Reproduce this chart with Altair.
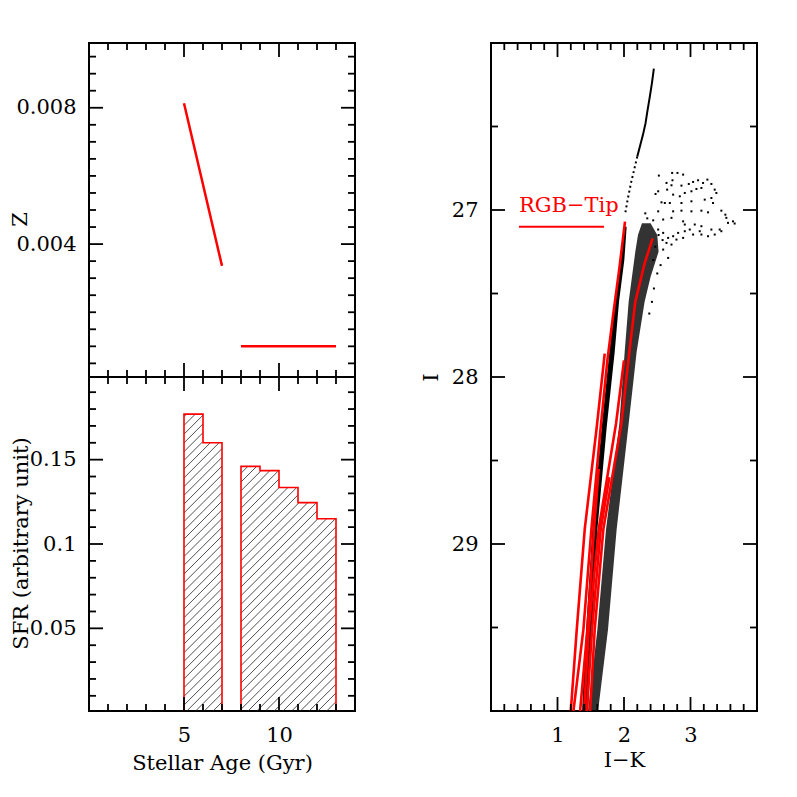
import altair as alt
import pandas as pd

# ---------------- data ----------------
# top-left panel: metallicity Z vs stellar age (two segments)
z_age = [5.0, 7.0, 8.0, 13.0]
z_val = [0.00813, 0.00336, 0.0010, 0.0010]
z_seg = ["young", "young", "old", "old"]

# bottom-left panel: SFR histogram
bin_lo = [5, 6, 8, 9, 10, 11, 12]
bin_hi = [6, 7, 9, 10, 11, 12, 13]
sfr = [0.177, 0.160, 0.146, 0.1435, 0.1335, 0.1245, 0.115]

# tick values
age_major = [5, 10]
age_minor = [1, 2, 3, 4, 6, 7, 8, 9, 11, 12, 13]
z_major = [0.004, 0.008]
z_minor = [0.0005, 0.001, 0.0015, 0.002, 0.0025, 0.003, 0.0035, 0.0045, 0.005,
           0.0055, 0.006, 0.0065, 0.007, 0.0075, 0.0085, 0.009, 0.0095]
sfr_major = [0.05, 0.1, 0.15]
sfr_minor = [0.01, 0.02, 0.03, 0.04, 0.06, 0.07, 0.08, 0.09, 0.11, 0.12, 0.13,
             0.14, 0.16, 0.17, 0.18, 0.19]
ik_major = [1, 2, 3]
ik_minor = [0.2, 0.4, 0.6, 0.8, 1.2, 1.4, 1.6, 1.8, 2.2, 2.4, 2.6, 2.8, 3.2,
            3.4, 3.6, 3.8]
i_major = [27, 28, 29]
i_minor = [26.5, 27.5, 28.5, 29.5]

# right panel (CMD): dense star sequences as bands (I, left I-K, right I-K)
lb_I = [27.10, 27.30, 27.55, 27.85, 28.30, 28.91, 29.51, 30.0]
lb_xl = [2.005, 1.955, 1.865, 1.78, 1.665, 1.525, 1.43, 1.37]
lb_xr = [2.04, 2.005, 1.925, 1.86, 1.74, 1.60, 1.52, 1.46]

rb_I = [27.08, 27.15, 27.25, 27.40, 27.55, 27.85, 28.28, 28.91, 29.51, 30.0]
rb_xl = [2.27, 2.21, 2.17, 2.12, 2.07, 2.01, 1.93, 1.73, 1.60, 1.46]
rb_xr = [2.40, 2.50, 2.52, 2.40, 2.31, 2.19, 2.07, 1.89, 1.76, 1.61]

# thin bright sequence above the tip
us_x = [2.449, 2.42, 2.389, 2.355, 2.324, 2.285, 2.239, 2.20]
us_I = [26.154, 26.24, 26.32, 26.40, 26.48, 26.55, 26.62, 26.68]
us2_x = [2.20, 2.164, 2.104, 2.054, 2.014]
us2_I = [26.68, 26.74, 26.84, 26.94, 27.03]

# sparse stars (clump / AGB region)
cl_x = [2.524, 2.724, 2.804, 2.889, 2.639, 2.729, 2.714, 2.864, 2.974, 3.039,
        3.114, 3.189, 3.254, 3.314, 2.474, 2.514, 2.649, 2.739, 2.839, 2.914,
        3.014, 3.089, 3.164, 3.364, 3.389, 2.614, 2.564, 2.689, 2.864, 3.014,
        3.214, 3.314, 3.339, 2.514, 2.739, 2.864, 3.014, 3.164, 3.264, 3.464,
        3.524, 3.539, 3.639, 3.564, 3.664, 2.439, 2.589, 2.714, 2.889, 3.064,
        2.914, 3.164, 3.314, 3.439, 3.464, 2.514, 2.589, 2.664, 2.739, 2.814,
        2.914, 2.989, 3.039, 3.139, 3.264, 3.364, 2.639, 2.714, 2.589, 2.664,
        2.889, 2.789, 3.164, 2.47, 2.55, 2.50, 2.45, 2.42, 2.38, 2.58, 2.52,
        2.35, 2.32, 2.44]
cl_I = [26.794, 26.778, 26.778, 26.788, 26.838, 26.822, 26.852, 26.854, 26.844,
        26.832, 26.822, 26.838, 26.818, 26.844, 26.904, 26.888, 26.878, 26.908,
        26.918, 26.898, 26.888, 26.874, 26.868, 26.878, 26.898, 26.958, 26.954,
        26.958, 26.958, 26.948, 26.938, 26.928, 26.958, 27.008, 27.008, 27.004,
        27.008, 27.004, 27.014, 27.004, 27.028, 27.047, 27.068, 27.077, 27.081,
        27.062, 27.057, 27.047, 27.068, 27.087, 27.087, 27.097, 27.117, 27.117,
        27.127, 27.117, 27.137, 27.167, 27.157, 27.137, 27.127, 27.117, 27.147,
        27.127, 27.157, 27.147, 27.197, 27.207, 27.237, 27.287, 27.167, 27.177,
        27.147, 27.22, 27.33, 27.38, 27.47, 27.55, 27.62, 27.18, 27.15, 27.05,
        27.02, 27.30]

# isochrones (red), listed from the top downwards
iso_LA_x = [2.015, 1.93, 1.84, 1.75, 1.65, 1.51, 1.39, 1.24]
iso_LA_I = [27.07, 27.35, 27.62, 27.90, 28.30, 28.91, 29.51, 30.0]
iso_LB_x = [1.71, 1.59, 1.41, 1.29, 1.20]
iso_LB_I = [27.86, 28.30, 28.91, 29.51, 30.0]
iso_LC_x = [1.62, 1.55, 1.45, 1.34]
iso_LC_I = [28.55, 28.91, 29.51, 30.0]
iso_RA_x = [2.43, 2.31, 2.17, 2.08, 1.96, 1.69, 1.56, 1.49]
iso_RA_I = [27.17, 27.32, 27.55, 27.85, 28.28, 28.91, 29.51, 30.0]
iso_RB_x = [2.00, 1.88, 1.62, 1.47, 1.40]
iso_RB_I = [27.90, 28.28, 28.91, 29.51, 30.0]
iso_RC_x = [1.78, 1.65, 1.52, 1.44]
iso_RC_I = [28.60, 28.91, 29.51, 30.0]

# RGB tip marker
tip_x = [0.42, 1.70]
tip_I = [27.10, 27.10]
tip_label_x = [0.42]
tip_label_I = [27.01]
tip_label = ["RGB\u2212Tip"]

# ---------------- styling ----------------
FONT = "DejaVu Serif"
FS = 21
RED = "#ff0000"
MAJ, MIN = 14, 7
TW = 1.8
LW, TOPH, BOTH = 266, 334, 334
RW, RH = 266, 668

# scales
x_age = alt.Scale(domain=[0, 14], nice=False, zero=False)
y_z = alt.Scale(domain=[0.0001, 0.0099], nice=False, zero=False)
y_sfr = alt.Scale(domain=[0.001, 0.199], nice=False, zero=False)
x_ik = alt.Scale(domain=[0, 4], nice=False, zero=False)
y_I = alt.Scale(domain=[26, 30], nice=False, zero=False, reverse=True)

# axes (the same object is used in every layer of a panel)
ax_top_x = None
ax_top_y = alt.Axis(values=z_major, format=".3f", title="Z",
                    titleX=-69, titleY=176, titleAngle=270,
                    titleBaseline="middle", titleAlign="center")
ax_bot_x = alt.Axis(values=age_major, format="d", title="Stellar Age (Gyr)",
                    titleX=133, titleY=58, titleBaseline="alphabetic",
                    titleAlign="center")
ax_bot_y = alt.Axis(values=sfr_major, format="~g",
                    title="SFR (arbitrary unit)", titleX=-68, titleY=166,
                    titleAngle=270, titleBaseline="middle",
                    titleAlign="center")
ax_r_x = alt.Axis(values=ik_major, format="d", title="I\u2212K",
                  titleX=133, titleY=55, titleBaseline="alphabetic",
                  titleAlign="center")
ax_r_y = alt.Axis(values=i_major, format="d", title="I",
                  titleX=-60, titleY=334, titleAngle=270,
                  titleBaseline="middle", titleAlign="center")


def X(field, scale, axis):
    return alt.X(field, scale=scale, axis=axis)


def Y(field, scale, axis):
    return alt.Y(field, scale=scale, axis=axis)


def side_ticks(vals, scale, axis, side, L, W, H):
    df = pd.DataFrame({"v": vals})
    m = alt.Chart(df).mark_rule(color="black", strokeWidth=TW)
    if side in ("left", "right"):
        x0 = 0 if side == "left" else W
        x1 = L if side == "left" else W - L
        return m.encode(y=Y("v:Q", scale, axis),
                        x=alt.value(x0), x2=alt.value(x1))
    y0 = 0 if side == "top" else H
    y1 = L if side == "top" else H - L
    return m.encode(x=X("v:Q", scale, axis),
                    y=alt.value(y0), y2=alt.value(y1))


def frame_ticks(xs, xa, ys, ya, xmaj, xmin, ymaj, ymin, W, H, sides):
    out = []
    for s in sides:
        if s in ("left", "right"):
            out.append(side_ticks(ymaj, ys, ya, s, MAJ, W, H))
            out.append(side_ticks(ymin, ys, ya, s, MIN, W, H))
        else:
            out.append(side_ticks(xmaj, xs, xa, s, MAJ, W, H))
            out.append(side_ticks(xmin, xs, xa, s, MIN, W, H))
    return out


# ---------------- top-left panel ----------------
zdf = pd.DataFrame({"age": z_age, "z": z_val, "seg": z_seg})
zline = alt.Chart(zdf).mark_line(color=RED, strokeWidth=2.5).encode(
    x=X("age:Q", x_age, ax_top_x),
    y=Y("z:Q", y_z, ax_top_y),
    detail="seg:N",
)
top = alt.layer(
    zline,
    *frame_ticks(x_age, ax_top_x, y_z, ax_top_y, age_major, age_minor,
                 z_major, z_minor, LW, TOPH,
                 ["left", "right", "top", "bottom"]),
).properties(width=LW, height=TOPH)

# ---------------- bottom-left panel ----------------
# hatch (45 degrees on screen) clipped to each bar
slope = (LW / 14.0) / (BOTH / 0.198)
spacing = 0.46
hatch = []
for lo, hi, h in zip(bin_lo, bin_hi, sfr):
    span = h / slope
    k0 = int((lo - span) / spacing) - 2
    k1 = int(hi / spacing) + 2
    for k in range(k0, k1 + 1):
        c = k * spacing
        xs = max(lo, c)
        xe = min(hi, c + span)
        if xe > xs:
            hatch.append({"x": xs, "x2": xe, "y": (xs - c) * slope,
                          "y2": (xe - c) * slope})
hdf = pd.DataFrame(hatch)

# step outline of contiguous groups of bins
rows = []
g, k = 0, 0
for i in range(len(sfr)):
    if i == 0 or bin_lo[i] != bin_hi[i - 1]:
        if i > 0:
            rows.append({"g": g, "k": k, "x": bin_hi[i - 1], "y": 0.0})
            g += 1
            k = 0
        rows.append({"g": g, "k": k, "x": bin_lo[i], "y": 0.0})
        k += 1
    rows.append({"g": g, "k": k, "x": bin_lo[i], "y": sfr[i]})
    k += 1
    rows.append({"g": g, "k": k, "x": bin_hi[i], "y": sfr[i]})
    k += 1
rows.append({"g": g, "k": k, "x": bin_hi[-1], "y": 0.0})
odf = pd.DataFrame(rows)

hatch_layer = alt.Chart(hdf).mark_rule(color="#222222", strokeWidth=0.8,
                                       clip=True).encode(
    x=X("x:Q", x_age, ax_bot_x),
    x2="x2:Q",
    y=Y("y:Q", y_sfr, ax_bot_y),
    y2="y2:Q",
)
outline = alt.Chart(odf).mark_line(color=RED, strokeWidth=1.6,
                                   clip=True).encode(
    x=X("x:Q", x_age, ax_bot_x),
    y=Y("y:Q", y_sfr, ax_bot_y),
    detail="g:N",
    order="k:Q",
)
bottom = alt.layer(
    hatch_layer, outline,
    *frame_ticks(x_age, ax_bot_x, y_sfr, ax_bot_y, age_major, age_minor,
                 sfr_major, sfr_minor, LW, BOTH,
                 ["left", "right", "bottom", "top"]),
).properties(width=LW, height=BOTH)

# ---------------- right panel (CMD) ----------------
lbdf = pd.DataFrame({"I": lb_I, "xl": lb_xl, "xr": lb_xr})
rbdf = pd.DataFrame({"I": rb_I, "xl": rb_xl, "xr": rb_xr})

band_l = alt.Chart(lbdf).mark_area(color="black", orient="horizontal").encode(
    y=Y("I:Q", y_I, ax_r_y), x=X("xl:Q", x_ik, ax_r_x), x2="xr:Q")
band_r = alt.Chart(rbdf).mark_area(color="black", opacity=0.8,
                                   orient="horizontal").encode(
    y=Y("I:Q", y_I, ax_r_y), x=X("xl:Q", x_ik, ax_r_x), x2="xr:Q")

usdf = pd.DataFrame({"x": us_x, "I": us_I, "k": list(range(len(us_x)))})
us2df = pd.DataFrame({"x": us2_x, "I": us2_I, "k": list(range(len(us2_x)))})
upper1 = alt.Chart(usdf).mark_line(color="black", strokeWidth=2).encode(
    x=X("x:Q", x_ik, ax_r_x), y=Y("I:Q", y_I, ax_r_y), order="k:Q")
upper2 = alt.Chart(us2df).mark_line(color="black", strokeWidth=2,
                                    strokeDash=[2, 3]).encode(
    x=X("x:Q", x_ik, ax_r_x), y=Y("I:Q", y_I, ax_r_y), order="k:Q")

cldf = pd.DataFrame({"x": cl_x, "I": cl_I})
cloud = alt.Chart(cldf).mark_square(color="black", size=4, opacity=1).encode(
    x=X("x:Q", x_ik, ax_r_x), y=Y("I:Q", y_I, ax_r_y))

iso_rows = []
for name, xs_, is_ in [("LA", iso_LA_x, iso_LA_I), ("LB", iso_LB_x, iso_LB_I),
                       ("LC", iso_LC_x, iso_LC_I), ("RA", iso_RA_x, iso_RA_I),
                       ("RB", iso_RB_x, iso_RB_I), ("RC", iso_RC_x, iso_RC_I)]:
    for j, (a, b) in enumerate(zip(xs_, is_)):
        iso_rows.append({"iso": name, "k": j, "x": a, "I": b})
isodf = pd.DataFrame(iso_rows)
iso = alt.Chart(isodf).mark_line(color=RED, strokeWidth=2.6, clip=True).encode(
    x=X("x:Q", x_ik, ax_r_x), y=Y("I:Q", y_I, ax_r_y),
    detail="iso:N", order="k:Q")

tipdf = pd.DataFrame({"x": tip_x, "I": tip_I})
tipline = alt.Chart(tipdf).mark_line(color=RED, strokeWidth=2).encode(
    x=X("x:Q", x_ik, ax_r_x), y=Y("I:Q", y_I, ax_r_y))
tiplab = alt.Chart(pd.DataFrame({"x": tip_label_x, "I": tip_label_I,
                                 "t": tip_label})).mark_text(
    color=RED, font=FONT, fontSize=21, align="left",
    baseline="alphabetic").encode(
    x=X("x:Q", x_ik, ax_r_x), y=Y("I:Q", y_I, ax_r_y), text="t:N")

right = alt.layer(
    band_l, band_r, upper1, upper2, cloud, iso, tipline, tiplab,
    *frame_ticks(x_ik, ax_r_x, y_I, ax_r_y, ik_major, ik_minor,
                 i_major, i_minor, RW, RH,
                 ["left", "right", "top", "bottom"]),
).properties(width=RW, height=RH)

left = alt.vconcat(top, bottom, spacing=0, bounds="flush")
chart = alt.hconcat(left, right, spacing=62).properties(
    padding={"left": 0, "top": 33, "right": 5, "bottom": 5}
).configure_view(stroke="black", strokeWidth=2).configure_axis(
    labelFont=FONT, labelFontSize=FS, titleFont=FONT, titleFontSize=FS,
    titleFontWeight="normal", labelColor="black", titleColor="black",
    grid=False, ticks=False, domain=False, tickSize=0, labelPadding=13,
)

chart.save("out.html", embed_options={"renderer": "svg", "actions": False})
